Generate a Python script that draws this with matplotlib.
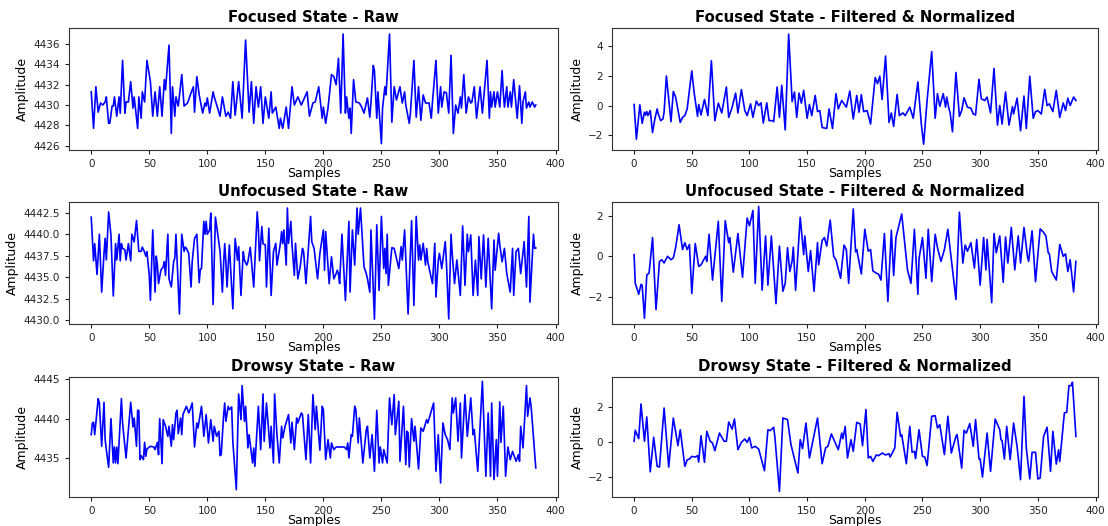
import matplotlib
matplotlib.use("Agg")
import matplotlib.pyplot as plt
from matplotlib.ticker import ScalarFormatter

# ---------------- data (sample index, amplitude) ----------------
focused_raw_idx = [0,2,4,6,8,10,12,13,15,16,18,19,20,22,24,25,27,29,30,32,34,36,37,40,41,43,44,46,48,50,51,53,55,57,59,61,63,64,67,69,70,72,73,75,78,80,83,86,88,89,91,93,96,98,99,100,102,105,106,111,113,116,118,120,122,124,127,130,133,136,138,140,142,144,146,148,150,153,155,156,159,162,163,165,168,170,173,175,178,181,186,188,191,193,196,199,200,202,204,207,209,211,213,215,217,219,220,222,223,224,226,228,231,233,235,238,240,241,243,244,246,247,250,251,253,254,257,259,261,263,266,268,270,271,274,275,278,280,282,284,286,288,291,293,294,297,299,301,302,304,306,308,310,312,314,316,318,319,321,323,325,327,328,330,332,335,337,341,343,344,345,347,348,350,352,354,355,356,358,359,361,362,364,367,369,371,372,374,375,377,378,380,382,383]
focused_raw_amp = [4431.3,4427.7,4431.8,4429.3,4430.2,4430.0,4430.3,4430.8,4428.2,4428.2,4429.9,4429.9,4430.8,4428.9,4430.8,4429.2,4434.4,4429.2,4430.3,4430.3,4432.3,4429.7,4430.8,4427.7,4430.8,4428.7,4431.3,4430.3,4434.4,4433.0,4432.3,4428.9,4431.3,4428.9,4431.8,4428.9,4432.5,4431.5,4435.9,4427.2,4431.8,4428.9,4430.8,4429.9,4433.0,4429.9,4430.2,4431.2,4431.8,4429.3,4432.8,4431.0,4429.2,4430.2,4429.9,4430.7,4429.2,4431.3,4430.8,4428.9,4430.8,4428.9,4429.3,4428.7,4432.3,4429.0,4432.3,4428.7,4436.4,4429.3,4432.3,4428.2,4431.8,4429.8,4431.8,4428.2,4430.8,4428.7,4431.3,4429.2,4429.8,4427.7,4428.7,4427.7,4429.8,4427.7,4431.8,4430.0,4430.8,4430.0,4431.3,4428.9,4430.2,4430.3,4431.8,4428.7,4429.8,4428.2,4429.7,4433.0,4432.8,4432.0,4434.6,4429.2,4437.0,4429.2,4430.8,4428.7,4429.7,4427.2,4432.5,4430.3,4430.2,4429.8,4429.2,4430.7,4428.8,4430.2,4433.9,4433.4,4428.7,4431.3,4426.2,4429.7,4431.8,4431.0,4437.0,4428.3,4431.8,4430.5,4431.8,4430.2,4431.3,4430.0,4428.2,4429.2,4434.4,4428.8,4431.8,4428.5,4431.0,4430.2,4430.2,4428.7,4430.3,4434.4,4429.2,4431.8,4429.8,4431.3,4431.2,4429.2,4434.9,4427.2,4430.0,4429.2,4430.8,4429.7,4433.0,4429.2,4430.8,4430.2,4430.3,4431.8,4428.7,4431.8,4429.2,4434.4,4428.7,4431.3,4429.8,4431.3,4429.8,4431.3,4429.8,4433.4,4431.3,4429.8,4431.8,4429.8,4431.3,4429.8,4432.5,4428.7,4431.9,4428.2,4430.3,4431.3,4429.7,4430.3,4429.8,4430.3,4429.8,4430.0]

focused_filt_idx = [0,2,5,7,9,10,11,12,14,16,18,20,21,23,25,26,28,32,34,36,40,42,44,46,50,52,55,56,58,61,64,67,70,73,76,80,82,85,88,90,93,96,98,101,103,106,108,110,112,115,117,120,121,124,126,128,131,134,137,139,141,143,145,147,150,152,154,157,159,161,163,167,169,172,175,177,180,182,184,187,190,193,195,197,199,202,205,209,211,213,215,218,221,223,225,228,230,233,235,239,242,246,249,251,254,258,261,263,265,268,270,271,273,274,276,279,282,284,286,289,292,294,296,299,301,304,306,309,312,315,317,319,322,325,328,329,332,335,338,340,343,346,348,350,353,356,358,360,363,366,369,372,374,376,378,381,383]
focused_filt_amp = [0.07,-2.27,0.05,-1.2,-0.45,-0.64,-0.41,-0.68,-0.34,-1.82,-0.91,-0.23,-0.57,-1.02,-0.91,-0.45,1.99,-1.09,0.95,0.57,-1.14,-0.8,-0.68,-0.23,2.34,0.91,-0.73,0.07,-0.64,0.41,-0.68,3.02,-1.02,0.16,-0.5,1.25,-0.8,-0.11,0.84,-0.5,1.07,-0.34,-0.68,0.11,-0.8,0.3,0.0,0.18,-1.18,0.18,-1.02,-1.02,-1.09,1.25,-0.8,1.36,-1.64,4.82,0.27,0.91,-0.8,0.84,0.16,1.02,-0.86,0.07,-0.68,0.68,-0.41,-0.34,-1.48,-1.55,-0.23,-1.55,0.8,-0.23,0.34,0.11,-0.11,0.98,-0.91,0.68,-0.45,0.73,-0.41,-0.34,-1.25,1.89,1.48,1.98,0.41,3.34,-1.14,-0.5,-1.41,0.75,-0.68,-0.5,-0.68,-0.11,-0.86,1.59,-1.27,-2.61,0.34,3.64,-0.86,0.8,-0.05,0.8,-0.11,0.57,-0.23,-0.5,-1.77,2.23,-0.73,-0.34,0.52,-0.11,-0.18,-0.57,-0.64,1.77,0.45,0.34,0.57,-0.5,2.5,-1.32,0.0,-1.25,0.91,-1.32,-0.07,-0.57,0.5,-1.7,0.64,-1.55,1.98,-0.86,-0.41,-0.34,-0.57,1.09,0.0,0.11,-0.41,1.02,-0.8,0.18,-0.34,0.5,0.0,0.57,0.34]

unfocused_raw_idx = [0,2,3,5,7,9,11,12,13,15,17,19,21,22,24,25,26,27,29,30,32,34,35,37,39,41,43,44,46,47,48,50,51,53,55,56,57,58,60,62,63,64,66,67,69,71,72,73,76,78,80,81,82,84,86,87,89,91,93,94,95,97,98,99,100,102,103,105,107,109,111,113,114,115,116,117,119,122,124,126,127,129,131,132,134,135,137,140,143,144,145,147,148,150,151,153,155,157,159,160,163,164,165,166,168,169,170,172,173,175,176,178,180,182,183,185,189,190,192,195,197,200,201,202,205,207,209,211,212,213,214,216,219,222,223,225,227,229,230,232,235,237,238,240,241,244,246,248,250,252,253,254,255,256,259,261,265,267,268,270,273,276,278,280,282,283,284,286,288,289,290,294,296,297,299,300,302,305,306,308,310,311,313,315,318,320,322,324,325,327,329,331,333,334,336,338,340,342,345,347,348,351,352,354,356,358,361,363,364,366,368,370,373,375,377,378,381,382,383]
unfocused_raw_amp = [4442.0,4436.9,4438.9,4435.3,4440.0,4433.25,4437.76,4439.53,4437.0,4442.6,4439.9,4432.8,4438.9,4437.0,4440.0,4436.9,4438.9,4438.35,4438.2,4437.0,4438.9,4436.9,4440.0,4439.1,4441.6,4438.0,4438.0,4438.5,4437.9,4437.45,4437.96,4435.2,4432.3,4440.5,4433.25,4437.45,4436.4,4434.24,4435.8,4436.2,4436.8,4435.2,4440.0,4434.8,4433.85,4436.8,4437.2,4440.0,4430.7,4440.0,4438.0,4438.5,4438.35,4437.76,4433.85,4436.8,4439.5,4440.0,4434.35,4435.9,4436.0,4441.5,4440.0,4441.5,4440.0,4440.5,4442.47,4431.8,4442.0,4440.0,4438.0,4433.25,4436.4,4438.9,4436.8,4433.85,4438.75,4431.3,4439.5,4436.98,4438.55,4432.86,4437.96,4436.98,4436.4,4436.8,4438.47,4433.85,4442.6,4440.7,4436.9,4440.9,4438.9,4438.75,4433.85,4440.7,4432.86,4437.96,4438.94,4436.4,4438.94,4440.3,4438.9,4440.5,4436.4,4443.06,4438.94,4441.5,4438.75,4435.2,4438.94,4434.8,4436.2,4438.35,4437.96,4434.24,4442.08,4439.14,4438.35,4434.8,4437.76,4440.5,4435.8,4440.3,4434.24,4437.37,4434.8,4435.4,4435.8,4435.4,4434.24,4440.0,4432.27,4441.5,4433.25,4440.5,4436.4,4443.06,4440.0,4443.06,4436.2,4435.4,4434.8,4433.25,4440.5,4430.1,4441.1,4433.45,4442.08,4436.0,4438.35,4435.4,4440.0,4434.04,4438.43,4438.35,4436.0,4438.55,4436.98,4440.5,4430.7,4441.57,4431.69,4442.08,4436.98,4438.75,4437.0,4438.94,4436.4,4438.35,4436.78,4434.24,4438.94,4432.67,4436.98,4437.76,4436.0,4439.14,4436.78,4430.12,4440.0,4437.76,4434.24,4437.0,4432.86,4440.98,4434.04,4440.0,4437.96,4439.92,4432.86,4436.98,4432.86,4439.73,4434.8,4439.92,4433.84,4439.53,4431.29,4439.33,4435.8,4440.12,4438.75,4436.78,4438.35,4435.41,4433.25,4438.35,4432.86,4437.96,4438.35,4435.41,4439.14,4433.84,4442.08,4432.08,4440.0,4438.35,4438.4]

unfocused_filt_idx = [0,1,3,4,6,7,9,11,13,16,19,22,24,26,29,32,34,36,39,42,44,46,48,50,53,56,58,62,63,65,68,73,76,79,82,83,86,90,94,98,100,103,105,108,111,114,116,119,123,126,129,131,133,135,137,138,140,144,147,148,151,153,156,159,160,163,165,167,170,173,175,179,182,184,186,190,192,193,197,200,203,205,207,210,212,214,217,220,223,225,227,232,237,240,243,246,247,250,253,255,258,261,263,266,269,272,279,282,285,287,289,292,295,297,300,303,305,306,310,312,314,317,320,322,324,327,330,333,335,338,341,342,345,348,352,355,357,359,360,362,366,369,372,374,376,378,381,383]
unfocused_filt_amp = [0.08,-1.33,-1.67,-1.87,-1.38,-1.42,-3.05,-0.92,-0.83,0.92,-2.62,-0.25,-0.17,-0.33,0.0,-0.17,-0.08,0.42,1.55,0.33,0.67,0.33,0.58,-1.83,0.63,-0.5,-0.42,0.0,-0.25,1.08,-1.17,1.72,-2.22,1.75,0.67,0.92,-0.78,1.12,-1.03,1.88,1.5,2.25,-1.33,2.45,-1.67,1.0,-1.42,1.0,-2.33,0.5,-1.72,-1.33,0.42,-0.75,-0.22,0.45,-1.67,1.92,0.08,1.0,-0.75,0.28,-1.72,0.67,-0.42,0.78,0.92,0.5,1.78,0.0,-0.17,-1.08,0.55,0.33,-1.33,2.33,0.22,0.33,-0.87,1.33,0.25,0.33,-0.72,-0.83,-0.88,-1.17,1.12,-2.22,1.28,-0.95,0.92,2.08,-0.67,-1.33,1.33,-1.87,-0.12,0.92,-1.08,1.33,-1.25,1.08,0.42,-0.25,0.33,1.33,-2.12,2.17,-0.33,0.55,0.25,0.67,-0.58,0.83,-1.42,0.92,-0.67,0.83,-2.28,1.12,0.17,1.0,-1.28,0.95,-0.33,1.42,-0.67,1.0,-0.33,1.42,0.0,-0.25,1.25,-1.25,1.35,1.17,1.0,0.17,0.12,-0.75,-1.17,0.58,0.0,0.12,-0.75,-0.17,-1.75,-0.25]

drowsy_raw_idx = [0,1,2,3,6,7,9,11,12,13,15,17,19,20,21,22,23,26,27,30,34,36,37,39,40,41,42,43,45,46,47,48,51,54,55,57,58,59,60,61,62,64,66,67,69,70,71,73,74,75,77,78,79,81,82,84,85,87,89,91,92,95,97,99,101,103,105,106,108,110,111,112,114,115,116,118,119,121,122,125,127,129,130,132,133,135,136,139,140,141,144,146,148,149,151,154,155,157,158,160,162,164,165,167,170,172,173,175,177,178,179,181,182,185,187,189,191,193,194,197,199,200,202,204,206,207,209,211,218,220,221,222,224,225,227,228,230,231,234,237,238,240,242,244,246,248,249,251,252,255,257,259,261,262,265,266,269,271,272,273,274,276,278,279,282,284,286,289,290,295,297,299,301,303,305,307,309,311,312,314,316,318,319,322,324,327,329,330,333,337,340,342,344,345,347,349,350,352,353,355,357,359,361,363,366,368,369,370,372,375,376,378,379,383]
drowsy_raw_amp = [4437.97,4439.45,4439.54,4437.97,4442.53,4441.98,4436.5,4442.07,4437.34,4436.08,4433.84,4440.0,4434.39,4436.41,4434.39,4436.41,4434.3,4442.53,4439.45,4435.02,4442.07,4438.95,4440.08,4436.5,4441.05,4441.05,4434.81,4435.32,4434.81,4437.0,4435.23,4436.16,4436.5,4436.41,4436.08,4437.0,4435.44,4440.0,4437.34,4434.3,4439.87,4439.03,4437.76,4439.03,4436.5,4439.24,4437.34,4440.72,4441.05,4438.1,4440.08,4437.97,4440.51,4441.22,4441.56,4440.72,4441.05,4441.98,4436.41,4439.45,4438.82,4441.56,4437.76,4440.51,4436.92,4439.87,4437.13,4439.03,4437.76,4438.4,4435.32,4435.44,4440.3,4441.98,4439.66,4441.56,4441.14,4441.48,4437.13,4431.01,4443.12,4439.87,4444.18,4439.66,4441.56,4436.29,4437.97,4434.39,4436.29,4433.97,4441.56,4436.08,4443.12,4437.13,4441.98,4436.29,4439.03,4434.39,4443.12,4437.97,4434.39,4439.03,4437.55,4439.03,4440.51,4436.92,4439.54,4436.08,4440.08,4439.45,4439.87,4440.72,4440.51,4434.81,4440.51,4434.39,4443.04,4438.61,4441.56,4436.0,4441.56,4441.14,4434.81,4437.34,4435.02,4436.92,4436.08,4436.41,4436.41,4436.08,4436.92,4435.02,4437.97,4437.76,4441.56,4441.14,4436.92,4440.08,4434.39,4438.61,4439.03,4435.02,4437.97,4433.33,4441.05,4434.39,4436.41,4434.39,4436.08,4434.39,4442.62,4439.24,4443.04,4437.97,4442.19,4434.6,4441.56,4434.18,4438.4,4438.19,4433.88,4440.0,4437.13,4439.03,4433.63,4438.82,4438.4,4439.87,4439.45,4441.98,4433.33,4437.97,4431.86,4439.45,4437.97,4437.34,4436.08,4442.62,4440.72,4442.62,4437.13,4441.98,4435.02,4443.04,4437.76,4442.62,4437.97,4438.61,4433.33,4444.73,4432.7,4440.72,4432.7,4441.98,4432.28,4437.34,4432.7,4442.11,4437.0,4441.56,4432.7,4436.41,4434.81,4435.86,4434.6,4435.44,4434.6,4439.03,4436.29,4444.18,4440.3,4442.62,4441.56,4433.76]

drowsy_filt_idx = [0,1,2,4,6,9,11,14,17,20,22,26,30,34,38,40,44,46,48,50,53,55,56,58,61,63,66,68,70,74,78,80,82,85,87,90,93,96,98,100,102,105,108,113,116,118,121,122,126,129,133,136,142,144,146,149,152,159,163,166,168,171,177,180,181,183,185,188,190,193,196,198,201,203,205,207,210,212,215,218,221,222,226,228,231,232,236,239,241,243,244,247,250,252,254,258,261,263,265,269,272,275,279,280,284,286,288,291,294,296,299,300,302,306,309,313,317,318,319,321,323,326,329,332,335,338,340,343,345,348,350,352,355,358,361,363,366,368,369,373,375,377,379,380,383]
drowsy_filt_amp = [0.06,0.69,0.53,0.21,2.19,0.06,1.45,-1.68,0.29,-1.37,-1.41,1.96,-1.41,1.39,-0.19,0.72,-1.37,-1.0,-0.95,-0.8,-0.84,-0.76,-1.12,0.38,-1.14,0.63,0.06,-0.04,-0.48,0.53,0.06,0.06,1.16,0.76,1.33,-0.42,0.0,0.19,0.0,0.29,-0.32,-0.23,-0.38,-1.62,0.72,0.67,0.86,0.34,-2.8,1.39,1.3,-0.13,-1.75,0.15,-0.36,1.1,-0.89,1.39,-1.22,-0.32,-0.23,0.48,-0.42,0.53,0.21,0.91,-0.89,0.15,-0.51,1.14,1.05,-0.19,1.87,-0.89,-0.8,-1.09,-0.72,-0.76,-0.61,-0.72,-0.65,-0.84,-0.32,1.71,0.34,0.44,-1.22,0.91,-0.57,-0.51,-0.93,0.72,-0.8,-0.84,-1.32,1.49,1.52,0.82,1.01,-0.7,1.49,-0.61,0.34,0.44,-1.47,0.69,0.53,1.07,-0.23,1.3,-0.95,-0.95,-1.98,0.53,-1.66,1.33,0.72,0.15,0.1,-0.95,0.91,-0.99,1.1,-0.23,-2.13,2.63,-0.32,-2.09,-0.57,-0.57,-2.09,-2.04,0.34,0.86,-1.66,0.63,-1.24,-0.42,-1.09,1.68,1.71,3.24,3.24,3.43,0.34]

titles = ["Focused State - Raw", "Focused State - Filtered & Normalized",
          "Unfocused State - Raw", "Unfocused State - Filtered & Normalized",
          "Drowsy State - Raw", "Drowsy State - Filtered & Normalized"]
x_ticks = [0, 50, 100, 150, 200, 250, 300, 350, 400]
y_ticks = [[4426, 4428, 4430, 4432, 4434, 4436], [-2, 0, 2, 4],
           [4430.0, 4432.5, 4435.0, 4437.5, 4440.0, 4442.5], [-2, 0, 2],
           [4435, 4440, 4445], [-2, 0, 2]]
y_limits = [(4425.57, 4437.59), (-3.0, 5.23), (4429.53, 4443.76), (-3.33, 2.67),
            (4430.08, 4445.27), (-3.12, 3.73)]

series = [(focused_raw_idx, focused_raw_amp), (focused_filt_idx, focused_filt_amp),
          (unfocused_raw_idx, unfocused_raw_amp), (unfocused_filt_idx, unfocused_filt_amp),
          (drowsy_raw_idx, drowsy_raw_amp), (drowsy_filt_idx, drowsy_filt_amp)]

# ---------------- layout ----------------
W, H = 1108, 526
fig = plt.figure(figsize=(W / 100, H / 100), dpi=100)
col_px = [(69, 558), (612, 1098)]
row_px = [(28, 150), (202, 324), (377, 497)]

for i, ((xs, ys), title) in enumerate(zip(series, titles)):
    r, c = divmod(i, 2)
    x0, x1 = col_px[c]
    y0, y1 = row_px[r]
    ax = fig.add_axes([x0 / W, 1 - y1 / H, (x1 - x0) / W, (y1 - y0) / H])
    ax.plot(xs, ys, color="blue", lw=1.2)
    ax.set_xlim(-19.15, 402.15)
    ax.set_ylim(*y_limits[i])
    ax.set_xticks(x_ticks)
    ax.set_yticks(y_ticks[i])
    fmt = ScalarFormatter(useOffset=False)
    ax.yaxis.set_major_formatter(fmt)
    ax.tick_params(labelsize=7.5, length=3, width=0.8, colors="#222222")
    ax.set_title(title, fontsize=10.7, fontweight="bold", pad=4)
    ax.set_xlabel("Samples", fontsize=9, labelpad=-1.5)
    ax.set_ylabel("Amplitude", fontsize=9, labelpad=3)
    for s in ax.spines.values():
        s.set_linewidth(0.8)
        s.set_color("#333333")

fig.savefig("out.png", dpi=100)
